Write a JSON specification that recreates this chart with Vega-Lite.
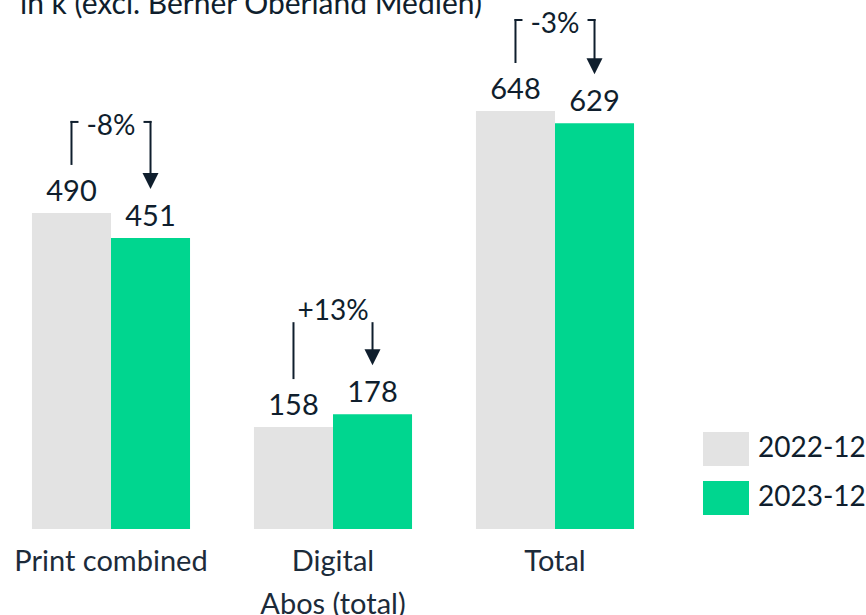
{
  "$schema": "https://vega.github.io/schema/vega-lite/v6.json",
  "autosize": {"type": "none"},
  "padding": {"left": 0, "top": 40, "right": 200, "bottom": 86},
  "width": 666,
  "height": 489,
  "background": "white",
  "config": {"view": {"stroke": null}, "font": "Lato"},
  "title": {
    "text": "in k (excl. Berner Oberland Medien)",
    "anchor": "start",
    "frame": "group",
    "font": "Lato",
    "fontSize": 30,
    "fontWeight": "normal",
    "color": "#0f1e2d",
    "baseline": "alphabetic",
    "offset": 0,
    "dx": 20,
    "dy": 33
  },
  "datasets": {
    "bars": [
      {"category": "Print combined", "year": "2022-12", "value": 490},
      {"category": "Print combined", "year": "2023-12", "value": 451},
      {"category": "Digital Abos (total)", "year": "2022-12", "value": 158},
      {"category": "Digital Abos (total)", "year": "2023-12", "value": 178},
      {"category": "Total", "year": "2022-12", "value": 648},
      {"category": "Total", "year": "2023-12", "value": 629}
    ],
    "changes": [
      {"category": "Print combined", "label": "-8%"},
      {"category": "Digital Abos (total)", "label": "+13%"},
      {"category": "Total", "label": "-3%"}
    ]
  },
  "encoding": {
    "x": {
      "field": "category",
      "type": "nominal",
      "sort": ["Print combined", "Digital Abos (total)", "Total"],
      "scale": {"paddingInner": 0.288, "paddingOuter": 0.144},
      "axis": {
        "title": null,
        "domain": false,
        "ticks": false,
        "labelAngle": 0,
        "labelFont": "Lato",
        "labelFontSize": 29,
        "labelColor": "#1c2b3a",
        "labelPadding": 18,
        "labelLineHeight": 43,
        "labelLimit": 400,
        "labelExpr": "datum.value == 'Digital Abos (total)' ? ['Digital', 'Abos (total)'] : datum.value"
      }
    }
  },
  "layer": [
    {
      "data": {"name": "bars"},
      "mark": {"type": "bar"},
      "encoding": {
        "xOffset": {"field": "year", "type": "nominal", "scale": {"paddingInner": 0, "paddingOuter": 0}},
        "y": {"field": "value", "type": "quantitative", "scale": {"domain": [0, 758.1], "nice": false}, "axis": null},
        "color": {
          "field": "year",
          "type": "nominal",
          "scale": {"domain": ["2022-12", "2023-12"], "range": ["#e3e3e3", "#00d68f"]},
          "legend": {
            "title": null,
            "orient": "none",
            "legendX": 709,
            "legendY": 392,
            "padding": 0,
            "symbolType": "M-1.353,-1H1.353V1H-1.353Z",
            "symbolSize": 1156,
            "symbolStrokeWidth": 0,
            "symbolOpacity": 1,
            "rowPadding": 15,
            "labelOffset": 15,
            "labelFont": "Lato",
            "labelFontSize": 28,
            "labelColor": "#0f1e2d"
          }
        }
      }
    },
    {
      "data": {"name": "bars"},
      "mark": {"type": "text", "fontSize": 29, "dy": -12, "baseline": "alphabetic", "color": "#0f1e2d"},
      "encoding": {
        "xOffset": {"field": "year", "type": "nominal"},
        "y": {"field": "value", "type": "quantitative"},
        "text": {"field": "value", "type": "quantitative"}
      }
    },
    {
      "data": {"name": "bars"},
      "transform": [
        {"joinaggregate": [{"op": "max", "field": "value", "as": "top"}], "groupby": ["category"]},
        {"filter": "datum.year == '2022-12'"}
      ],
      "mark": {"type": "rule", "strokeWidth": 2, "color": "#0f1e2d", "yOffset": -48, "y2Offset": -92},
      "encoding": {
        "xOffset": {"field": "year", "type": "nominal"},
        "y": {"field": "value", "type": "quantitative"},
        "y2": {"field": "top"}
      }
    },
    {
      "data": {"name": "bars"},
      "transform": [
        {"joinaggregate": [{"op": "max", "field": "value", "as": "top"}], "groupby": ["category"]},
        {"filter": "datum.year == '2023-12'"}
      ],
      "mark": {"type": "rule", "strokeWidth": 2, "color": "#0f1e2d", "yOffset": -55, "y2Offset": -92},
      "encoding": {
        "xOffset": {"field": "year", "type": "nominal"},
        "y": {"field": "value", "type": "quantitative"},
        "y2": {"field": "top"}
      }
    },
    {
      "data": {"name": "bars"},
      "transform": [{"filter": "datum.year == '2023-12'"}],
      "mark": {"type": "point", "shape": "M-1,-1L1,-1L0,1Z", "size": 256, "filled": true, "opacity": 1, "color": "#0f1e2d", "strokeWidth": 0, "yOffset": -57},
      "encoding": {
        "xOffset": {"field": "year", "type": "nominal"},
        "y": {"field": "value", "type": "quantitative"}
      }
    },
    {
      "data": {"name": "bars"},
      "transform": [
        {"joinaggregate": [{"op": "max", "field": "value", "as": "top"}], "groupby": ["category"]},
        {"lookup": "category", "from": {"data": {"name": "changes"}, "key": "category", "fields": ["label"]}},
        {"filter": "datum.year == '2022-12' && length(datum.label) < 4"}
      ],
      "mark": {"type": "point", "shape": "M-0.25,-0.25H1.75V0.25H-0.25Z", "size": 64, "filled": true, "opacity": 1, "color": "#0f1e2d", "strokeWidth": 0, "yOffset": -91},
      "encoding": {
        "xOffset": {"field": "year", "type": "nominal"},
        "y": {"field": "top", "type": "quantitative"}
      }
    },
    {
      "data": {"name": "bars"},
      "transform": [
        {"joinaggregate": [{"op": "max", "field": "value", "as": "top"}], "groupby": ["category"]},
        {"lookup": "category", "from": {"data": {"name": "changes"}, "key": "category", "fields": ["label"]}},
        {"filter": "datum.year == '2023-12' && length(datum.label) < 4"}
      ],
      "mark": {"type": "point", "shape": "M-1.75,-0.25H0.25V0.25H-1.75Z", "size": 64, "filled": true, "opacity": 1, "color": "#0f1e2d", "strokeWidth": 0, "yOffset": -91},
      "encoding": {
        "xOffset": {"field": "year", "type": "nominal"},
        "y": {"field": "top", "type": "quantitative"}
      }
    },
    {
      "data": {"name": "bars"},
      "transform": [
        {"joinaggregate": [{"op": "max", "field": "value", "as": "top"}], "groupby": ["category"]},
        {"lookup": "category", "from": {"data": {"name": "changes"}, "key": "category", "fields": ["label"]}},
        {"filter": "datum.year == '2022-12' && length(datum.label) < 4"}
      ],
      "mark": {"type": "text", "fontSize": 28, "baseline": "alphabetic", "color": "#0f1e2d", "yOffset": -78},
      "encoding": {
        "y": {"field": "top", "type": "quantitative"},
        "text": {"field": "label"}
      }
    },
    {
      "data": {"name": "bars"},
      "transform": [
        {"joinaggregate": [{"op": "max", "field": "value", "as": "top"}], "groupby": ["category"]},
        {"lookup": "category", "from": {"data": {"name": "changes"}, "key": "category", "fields": ["label"]}},
        {"filter": "datum.year == '2022-12' && length(datum.label) >= 4"}
      ],
      "mark": {"type": "text", "fontSize": 28, "baseline": "alphabetic", "color": "#0f1e2d", "yOffset": -94},
      "encoding": {
        "y": {"field": "top", "type": "quantitative"},
        "text": {"field": "label"}
      }
    }
  ]
}
